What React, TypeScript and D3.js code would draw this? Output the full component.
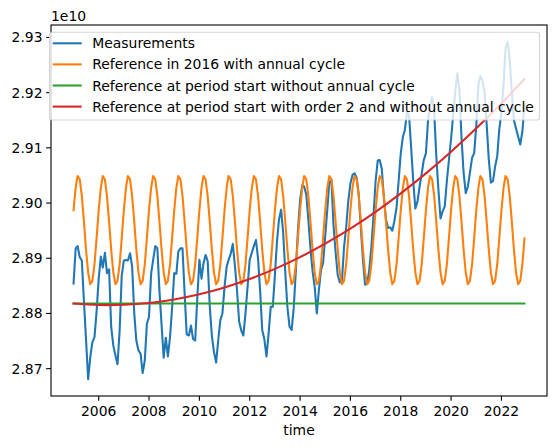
import * as d3 from 'd3'

// values are in units of 1e10
const measurements = [
  2.8854, 2.8918, 2.8922, 2.8902, 2.8896, 2.8822, 2.8753, 2.8681, 2.8721, 2.8748, 2.8757, 2.8803,
  2.8863, 2.8903, 2.8883, 2.891, 2.8873, 2.888, 2.8776, 2.8742, 2.8724, 2.8708, 2.8769, 2.8868,
  2.8896, 2.8897, 2.8896, 2.8909, 2.8885, 2.88, 2.8751, 2.8733, 2.8727, 2.8692, 2.8715, 2.8781,
  2.8794, 2.8872, 2.8897, 2.8922, 2.8918, 2.884, 2.878, 2.872, 2.8756, 2.8722, 2.8757, 2.881,
  2.8873, 2.8872, 2.8912, 2.8918, 2.8918, 2.8836, 2.8762, 2.876, 2.8778, 2.8754, 2.8751, 2.8826,
  2.8897, 2.8863, 2.889, 2.8906, 2.8895, 2.8812, 2.876, 2.873, 2.8711, 2.8751, 2.8788, 2.88,
  2.8848, 2.8885, 2.8897, 2.8908, 2.8926, 2.8886, 2.8842, 2.8785, 2.8769, 2.876, 2.88, 2.8848,
  2.8897, 2.891, 2.8922, 2.8933, 2.89, 2.884, 2.877, 2.8753, 2.8722, 2.8763, 2.8812, 2.8812,
  2.887, 2.8932, 2.897, 2.8988, 2.8946, 2.8873, 2.8812, 2.8776, 2.877, 2.881, 2.8878, 2.895,
  2.9005, 2.9032, 2.903, 2.9015, 2.897, 2.8918, 2.8877, 2.8848, 2.88, 2.8842, 2.8879, 2.8891,
  2.894, 2.899, 2.9037, 2.9042, 2.896, 2.891, 2.887, 2.8856, 2.886, 2.892, 2.8956, 2.9003,
  2.9035, 2.9051, 2.9054, 2.9046, 2.9016, 2.8955, 2.8898, 2.8852, 2.8854, 2.8879, 2.8921, 2.8976,
  2.904, 2.9077, 2.9078, 2.9062, 2.901, 2.897, 2.8955, 2.8956, 2.895, 2.8968, 2.8992, 2.904,
  2.909, 2.912, 2.9132, 2.9164, 2.916, 2.91, 2.904, 2.899, 2.9003, 2.903, 2.9053, 2.9078,
  2.909, 2.915, 2.9175, 2.9192, 2.9165, 2.9085, 2.9025, 2.8972, 2.8985, 2.8994, 2.904, 2.9078,
  2.9116, 2.916, 2.9201, 2.9235, 2.9205, 2.9118, 2.9055, 2.9018, 2.903, 2.9055, 2.9082, 2.909,
  2.914, 2.9215, 2.923, 2.9222, 2.92, 2.9142, 2.908, 2.9037, 2.904, 2.9066, 2.9085, 2.9134,
  2.9164, 2.9215, 2.928, 2.9292, 2.926, 2.92, 2.915, 2.9135, 2.912, 2.9106, 2.913, 2.9178,
]

// reference 2016, one value per calendar month, repeated every year
const annualCycle2016 = [
  2.8987, 2.9028, 2.9049, 2.9043, 2.9013, 2.8966, 2.8916, 2.8874, 2.8853, 2.8859, 2.8889, 2.8936,
]

const startLevel = 2.8818

// order 2 reference, read at each January plus the last month
const order2Years = [
  2005, 2006, 2007, 2008, 2009, 2010, 2011, 2012, 2013, 2014, 2015, 2016, 2017, 2018, 2019, 2020,
  2021, 2022,
]
const order2Values = [
  2.8818, 2.88154, 2.88157, 2.8819, 2.88254, 2.88347, 2.88471, 2.88624, 2.88807, 2.8902, 2.89264,
  2.89537, 2.8984, 2.90174, 2.90537, 2.9093, 2.91353, 2.91806,
]
const order2Last = 2.92248

const yTickValues = [2.87, 2.88, 2.89, 2.9, 2.91, 2.92, 2.93]

const legendLabels = [
  'Measurements',
  'Reference in 2016 with annual cycle',
  'Reference at period start without annual cycle',
  'Reference at period start with order 2 and without annual cycle',
]
const colors = ['#1f77b4', '#ff7f0e', '#2ca02c', '#d62728']

type Pt = { date: Date; value: number }

export default function App() {
  const width = 556
  const height = 448
  const left = 51
  const right = 547
  const top = 25
  const bottom = 396
  const font = 'DejaVu Sans, sans-serif'
  const fs = 13.9

  const months = d3.utcMonth.range(new Date(Date.UTC(2005, 0, 1)), new Date(Date.UTC(2023, 0, 1)))
  const t0 = months[0].getTime()
  const t1 = months[months.length - 1].getTime()
  const xPad = (t1 - t0) * 0.05

  const measured: Pt[] = months.map((d, i) => ({ date: d, value: measurements[i] }))
  const cycle: Pt[] = months.map((d) => ({ date: d, value: annualCycle2016[d.getUTCMonth()] }))
  const flat: Pt[] = [
    { date: months[0], value: startLevel },
    { date: months[months.length - 1], value: startLevel },
  ]
  const order2: Pt[] = order2Years
    .map((y, i) => ({ date: new Date(Date.UTC(y, 0, 1)), value: order2Values[i] }))
    .concat([{ date: months[months.length - 1], value: order2Last }])

  const all = [...measured, ...cycle, ...flat, ...order2].map((p) => p.value)
  const lo = d3.min(all) ?? 0
  const hi = d3.max(all) ?? 1
  const yPad = (hi - lo) * 0.05

  const x = d3
    .scaleUtc()
    .domain([new Date(t0 - xPad), new Date(t1 + xPad)])
    .range([left, right])
  const y = d3
    .scaleLinear()
    .domain([lo - yPad, hi + yPad])
    .range([bottom, top])

  const line = d3
    .line<Pt>()
    .x((p) => x(p.date))
    .y((p) => y(p.value))
  const smooth = line.curve(d3.curveNatural)
  const straight = d3
    .line<Pt>()
    .x((p) => x(p.date))
    .y((p) => y(p.value))

  const xTicks = x.ticks(d3.utcYear.every(2)!)
  const fmtYear = d3.utcFormat('%Y')

  const series = [
    straight(measured),
    straight(cycle),
    straight(flat),
    smooth(order2),
  ]

  const legendX = 49.5
  const legendY = 32.3
  const legendW = 490
  const legendH = 87.7
  const rowGap = 21.1

  return (
    <svg
      width={width}
      height={height}
      style={{ position: 'absolute', left: 0, top: 0, background: '#fff' }}
      fontFamily={font}
    >
      {series.map((d, i) => (
        <path
          key={i}
          d={d ?? ''}
          fill="none"
          stroke={colors[i]}
          strokeWidth={2.08}
          strokeLinejoin="round"
          strokeLinecap="square"
        />
      ))}

      <rect
        x={left}
        y={top}
        width={right - left}
        height={bottom - top}
        fill="none"
        stroke="#000"
        strokeWidth={1.1}
      />

      {xTicks.map((t) => (
        <g key={t.getTime()} transform={`translate(${x(t)},${bottom})`}>
          <line y2={4.86} stroke="#000" strokeWidth={1.1} />
          <text y={19.7} textAnchor="middle" fontSize={fs} fill="#000">
            {fmtYear(t)}
          </text>
        </g>
      ))}
      <text x={(left + right) / 2} y={435} textAnchor="middle" fontSize={fs} fill="#000">
        time
      </text>

      {yTickValues.map((t) => (
        <g key={t} transform={`translate(${left},${y(t)})`}>
          <line x2={-4.86} stroke="#000" strokeWidth={1.1} />
          <text x={-8.5} y={5} textAnchor="end" fontSize={fs} fill="#000">
            {d3.format('.2f')(t)}
          </text>
        </g>
      ))}
      <text x={left} y={20.5} fontSize={fs} fill="#000">
        1e10
      </text>

      <g transform={`translate(${legendX},${legendY})`}>
        <rect
          width={legendW}
          height={legendH}
          rx={2.8}
          fill="#fff"
          fillOpacity={0.8}
          stroke="#ccc"
          strokeOpacity={0.8}
          strokeWidth={1.1}
        />
        {legendLabels.map((label, i) => (
          <g key={label} transform={`translate(0,${11 + i * rowGap})`}>
            <line x1={3.2} x2={32.2} stroke={colors[i]} strokeWidth={2.08} />
            <text x={42.8} y={5} fontSize={fs} fill="#000">
              {label}
            </text>
          </g>
        ))}
      </g>
    </svg>
  )
}
